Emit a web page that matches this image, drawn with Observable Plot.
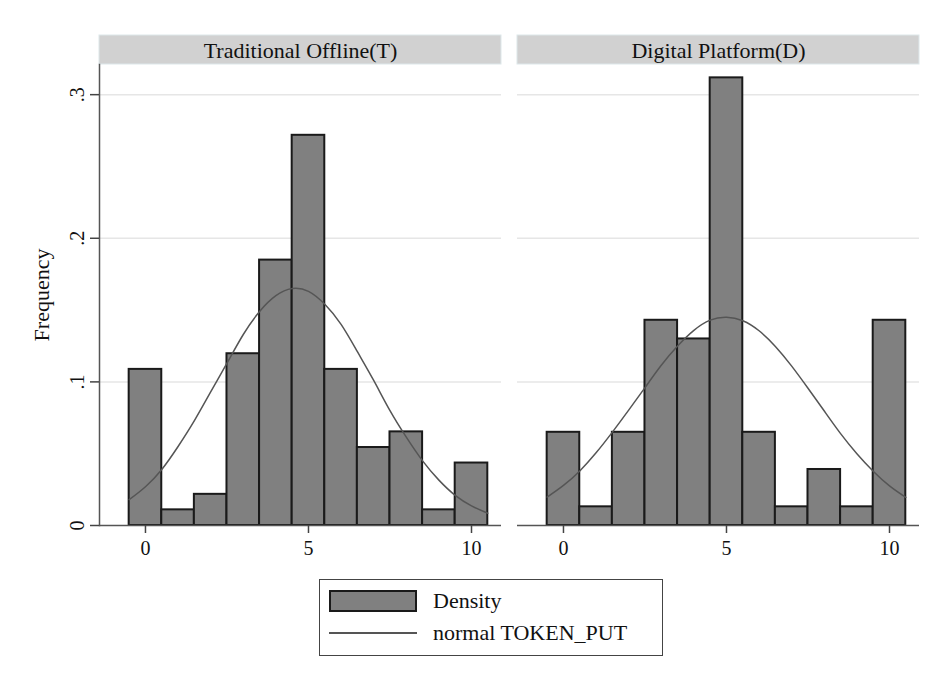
<!DOCTYPE html>
<html>
<head>
<meta charset="utf-8">
<script src="https://cdn.jsdelivr.net/npm/d3@7"></script>
<script src="https://cdn.jsdelivr.net/npm/@observablehq/plot@0.6"></script>
<style>
  body { margin: 0; background: #fff; font-family: 'Liberation Serif', 'Times New Roman', serif; }
  #chart { position: absolute; left: 0; top: 0; }
  #legend { position: absolute; left: 319px; top: 579px; width: 344px; height: 77px; box-sizing: border-box; border: 1.5px solid #444; background: #fff; }
  #legend .sw { position: absolute; left: 9px; top: 10px; width: 88px; height: 22px; box-sizing: border-box; background: #808080; border: 2px solid #1a1a1a; }
  #legend .ln { position: absolute; left: 9px; top: 52px; width: 88px; height: 0; border-top: 2px solid #555; }
  #legend .lb { position: absolute; left: 113px; font-size: 22px; line-height: 22px; color: #111; white-space: nowrap; }
</style>
</head>
<body>
<div id="chart"></div>
<div id="legend">
  <div class="sw"></div><div class="lb" style="top:10px">Density</div>
  <div class="ln"></div><div class="lb" style="top:42px">normal TOKEN_PUT</div>
</div>
<script>
// ---- data ----
const panels = ["Traditional Offline(T)", "Digital Platform(D)"];
const tokenValues = [0, 1, 2, 3, 4, 5, 6, 7, 8, 9, 10];
const densityT = [0.1087, 0.0109, 0.0217, 0.1196, 0.1848, 0.2717, 0.1087, 0.0543, 0.0652, 0.0109, 0.0435];
const densityD = [0.0649, 0.0130, 0.0649, 0.1429, 0.1299, 0.3117, 0.0649, 0.0130, 0.0390, 0.0130, 0.1429];
const curveX = [-0.5, 0, 0.5, 1, 1.5, 2, 2.5, 3, 3.5, 4, 4.5, 5, 5.5, 6, 6.5, 7, 7.5, 8, 8.5, 9, 9.5, 10, 10.5];
const normalT = [0.018, 0.027, 0.039, 0.055, 0.073, 0.093, 0.113, 0.133, 0.149, 0.160, 0.165, 0.163, 0.154, 0.140, 0.121, 0.101, 0.080, 0.0615, 0.045, 0.0316, 0.021, 0.0137, 0.0085];
const normalD = [0.0198, 0.0279, 0.038, 0.0506, 0.065, 0.0803, 0.096, 0.1116, 0.125, 0.1359, 0.143, 0.145, 0.1426, 0.1356, 0.1247, 0.111, 0.0956, 0.0797, 0.064, 0.050, 0.0378, 0.0276, 0.0196];
const xTicks = [0, 5, 10];
const yTicks = [0, 0.1, 0.2, 0.3];
const yLabel = "Frequency";

const FONT = "'Liberation Serif', 'Times New Roman', serif";
const densities = [densityT, densityD];
const normals = [normalT, normalD];

const rows = panels.flatMap((p, i) => tokenValues.map((v, j) => ({panel: p, v, density: densities[i][j]})));
const curve = panels.flatMap((p, i) => curveX.map((x, j) => ({panel: p, x, y: normals[i][j]})));
const fmtY = d => d === 0 ? "0" : d3.format(".1f")(d).replace(/^0/, "");

const plot = Plot.plot({
  width: 939,
  height: 570,
  marginLeft: 99,
  marginRight: 20,
  marginTop: 64,
  marginBottom: 45,
  style: {fontFamily: FONT, fontSize: "20px", color: "#111", background: "white"},
  fx: {domain: panels, paddingInner: 0.0383, paddingOuter: 0, label: null},
  x: {domain: [-1.41, 10.92]},
  y: {domain: [0, 0.321]},
  marks: [
    Plot.gridY(yTicks.filter(d => d > 0), {stroke: "#e6e6e6", strokeOpacity: 1, strokeWidth: 1.5}),
    Plot.rect(rows, {fx: "panel", x1: d => d.v - 0.5, x2: d => d.v + 0.5, y1: 0, y2: "density",
      fill: "#808080", stroke: "#1a1a1a", strokeWidth: 2, inset: 0}),
    Plot.line(curve, {fx: "panel", x: "x", y: "y", stroke: "#555", strokeWidth: 1.5, curve: "natural"}),
    Plot.ruleY([0], {stroke: "#555", strokeWidth: 1.5}),
    Plot.frame({anchor: "left", facetAnchor: "left", stroke: "#555", strokeWidth: 1.5}),
    Plot.axisX(xTicks, {tickSize: 8, tickPadding: 7, label: null, stroke: "#444", strokeWidth: 1.5, fontSize: 20}),
    Plot.axisY(yTicks, {tickSize: 9, tickPadding: 7, tickRotate: -90, tickFormat: fmtY, label: null, stroke: "#444", strokeWidth: 1.5, fontSize: 20}),
    Plot.axisY([], {tickSize: 0, label: yLabel, labelAnchor: "center", labelArrow: "none", labelOffset: 66, fontSize: 22}),
    Plot.axisFx({anchor: "top", tickSize: 0, tickPadding: 7, label: null, fontSize: 22})
  ]
});

// facet header strips drawn behind the fx axis labels, placed with Plot's fx scale
const fx = plot.scale("fx");
const g = d3.select(plot).insert("g", ":first-child");
for (const p of panels) {
  g.append("rect")
    .attr("x", fx.apply(p))
    .attr("y", 35)
    .attr("width", fx.bandwidth)
    .attr("height", 29)
    .attr("fill", "#d1d1d1")
    .attr("stroke", "#dde7ea")
    .attr("stroke-width", 1);
}
document.getElementById("chart").append(plot);
</script>
</body>
</html>
